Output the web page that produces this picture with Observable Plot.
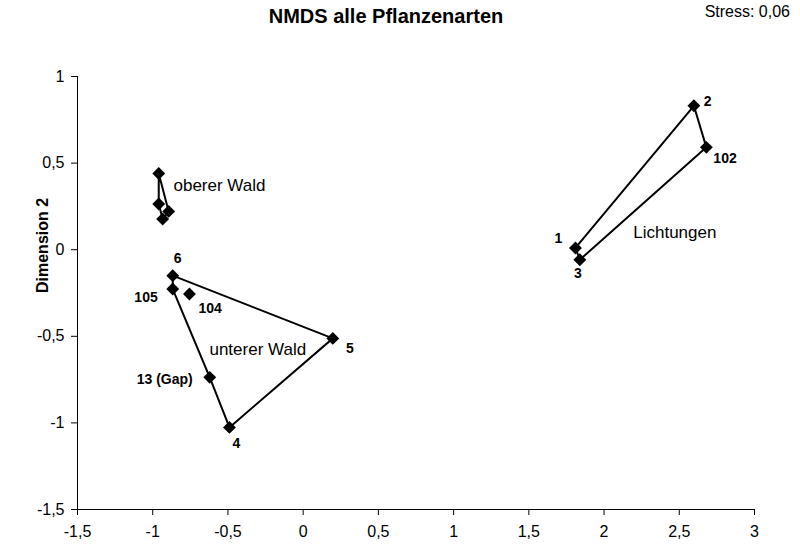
<!DOCTYPE html>
<html>
<head>
<meta charset="utf-8">
<script src="https://cdn.jsdelivr.net/npm/d3@7"></script>
<script src="https://cdn.jsdelivr.net/npm/@observablehq/plot@0.6"></script>
<style>
  body { margin: 0; background: white; font-family: "Liberation Sans", Arial, sans-serif; }
  #wrap { position: relative; width: 800px; height: 545px; }
  #title { position: absolute; top: 5px; left: 186px; width: 400px; text-align: center; font-weight: bold; font-size: 20px; line-height: 23px; }
  #stress { position: absolute; top: 3px; right: 10px; font-size: 16px; line-height: 18px; }
  #chart { position: absolute; left: 0; top: 0; }
</style>
</head>
<body>
<div id="wrap">
  <div id="chart"></div>
  <div id="title"></div>
  <div id="stress"></div>
</div>
<script>
// ---- data ----
const titleText = "NMDS alle Pflanzenarten";
const stressText = "Stress: 0,06";
const yAxisLabel = "Dimension 2";

const ids    = ["1", "2", "102", "3", "o1", "o2", "o3", "o4", "6", "105", "104", "5", "13", "4"];
const labels = ["1", "2", "102", "3", "", "", "", "", "6", "105", "104", "5", "13 (Gap)", "4"];
const dim1   = [1.81, 2.597, 2.68, 1.839, -0.96, -0.96, -0.894, -0.934, -0.867, -0.867, -0.756, 0.197, -0.621, -0.49];
const dim2   = [0.01, 0.831, 0.591, -0.058, 0.44, 0.264, 0.221, 0.177, -0.15, -0.227, -0.256, -0.512, -0.737, -1.026];
const group  = ["Lichtungen", "Lichtungen", "Lichtungen", "Lichtungen",
                "oberer Wald", "oberer Wald", "oberer Wald", "oberer Wald",
                "unterer Wald", "unterer Wald", "unterer Wald", "unterer Wald", "unterer Wald", "unterer Wald"];

const groupNames  = ["Lichtungen", "oberer Wald", "unterer Wald"];
const groupLabelX = [2.194, -0.862, -0.623];
const groupLabelY = [0.10, 0.37, -0.577];

const hullLichtungen = ["1", "2", "102", "3"];
const hullOberer     = ["o1", "o3", "o4", "o2"];
const hullUnterer    = ["6", "5", "4", "13", "105"];

const xTicks = [-1.5, -1, -0.5, 0, 0.5, 1, 1.5, 2, 2.5, 3];
const yTicks = [-1.5, -1, -0.5, 0, 0.5, 1];

// ---- build tables ----
const points = ids.map((id, i) => ({id, label: labels[i], x: dim1[i], y: dim2[i], group: group[i]}));
const byId = Object.fromEntries(points.map(p => [p.id, p]));
const hulls = [];
[hullLichtungen, hullOberer, hullUnterer].forEach((h, gi) => {
  [...h, h[0]].forEach(id => hulls.push({...byId[id], hull: gi}));
});
const groupLabels = groupNames.map((g, i) => ({g, x: groupLabelX[i], y: groupLabelY[i]}));

// label placement (layout only)
const labelPlace = {
  "1":   {dx: -17, dy: -9,  anchor: "middle"},
  "2":   {dx: 10,  dy: -4,  anchor: "start"},
  "102": {dx: 7,   dy: 11,  anchor: "start"},
  "3":   {dx: -2,  dy: 14,  anchor: "middle"},
  "6":   {dx: 5,   dy: -17, anchor: "middle"},
  "105": {dx: -15, dy: 8,   anchor: "end"},
  "104": {dx: 9,   dy: 14,  anchor: "start"},
  "5":   {dx: 17,  dy: 10,  anchor: "middle"},
  "13":  {dx: -17, dy: 2,   anchor: "end"},
  "4":   {dx: 7,   dy: 16,  anchor: "middle"}
};

const fmt = d => String(d).replace(".", ",");

const labelMarks = points.filter(p => p.label).map(p => {
  const lp = labelPlace[p.id];
  return Plot.text([p], {x: "x", y: "y", text: "label", dx: lp.dx, dy: lp.dy, textAnchor: lp.anchor,
    fontWeight: "bold", fontSize: 14, fill: "black"});
});

const chart = Plot.plot({
  width: 800,
  height: 545,
  marginLeft: 77,
  marginRight: 46,
  marginTop: 76,
  marginBottom: 36,
  x: {domain: [-1.5, 3]},
  y: {domain: [-1.5, 1]},
  style: {fontFamily: "'Liberation Sans', Arial, sans-serif", fontSize: "16px", background: "white", color: "black", overflow: "visible"},
  marks: [
    Plot.axisX({ticks: xTicks, tickFormat: fmt, tickSize: 6, tickPadding: 10, fontSize: 16, label: null}),
    Plot.axisY({ticks: yTicks, tickFormat: fmt, tickSize: 6, tickPadding: 7, fontSize: 16, label: null}),
    Plot.ruleX([-1.5], {stroke: "black"}),
    Plot.ruleY([-1.5], {stroke: "black"}),
    Plot.text([yAxisLabel], {frameAnchor: "left", dx: -35, rotate: -90, fontWeight: "bold", fontSize: 16, fill: "black"}),
    Plot.line(hulls, {x: "x", y: "y", z: "hull", stroke: "black", strokeWidth: 2}),
    Plot.dot(points, {x: "x", y: "y", symbol: "diamond2", r: 5.8, fill: "black"}),
    ...labelMarks,
    Plot.text(groupLabels, {x: "x", y: "y", text: "g", textAnchor: "start", fontSize: 17, fill: "black"})
  ]
});
document.getElementById("chart").appendChild(chart);
document.getElementById("title").textContent = titleText;
document.getElementById("stress").textContent = stressText;
</script>
</body>
</html>
